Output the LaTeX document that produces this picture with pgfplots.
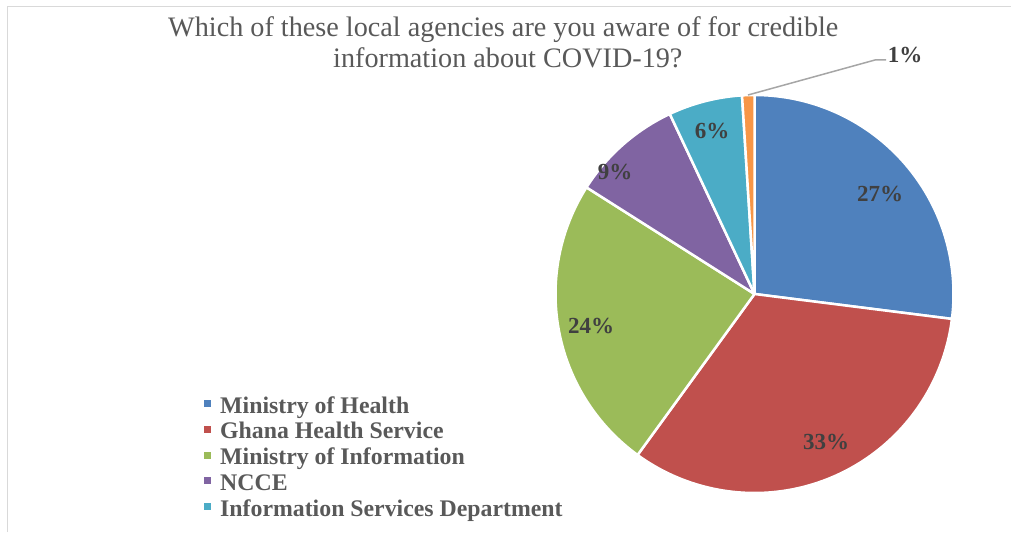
\documentclass[border=0pt]{standalone}
\usepackage{fontspec}
\setmainfont{Liberation Serif}
\usepackage{pgfplots}
\usepackage{pgfplotstable}
\pgfplotsset{compat=1.18}

\definecolor{c0}{HTML}{4F81BD}
\definecolor{c1}{HTML}{C0504D}
\definecolor{c2}{HTML}{9BBB59}
\definecolor{c3}{HTML}{8064A2}
\definecolor{c4}{HTML}{4BACC6}
\definecolor{c5}{HTML}{F79646}
\definecolor{txtgray}{HTML}{595959}
\definecolor{lblgray}{HTML}{404040}
\definecolor{framegray}{HTML}{D9D9D9}
\definecolor{leadgray}{HTML}{A6A6A6}

% share of respondents (%)
\pgfplotstableread{
value
27
33
24
9
6
1
}\piedata

\def\cum{0}
\pgfplotstableforeachcolumnelement{value}\of\piedata\as\v{%
  \pgfmathsetmacro\s{90-3.6*\cum}%
  \expandafter\xdef\csname pieS\pgfplotstablerow\endcsname{\s}%
  \expandafter\xdef\csname pieV\pgfplotstablerow\endcsname{\v}%
  \pgfmathsetmacro\c{\cum+\v}\xdef\cum{\c}%
}

\begin{document}
\begin{tikzpicture}
\begin{axis}[
  scale only axis, width=1011bp, height=532bp,
  xmin=0, xmax=1011, ymin=0, ymax=532,
  hide axis, clip=false,
  legend entries={Ministry of Health, Ghana Health Service, Ministry of Information, NCCE, Information Services Department},
  legend cell align=left,
  legend image code/.code={\fill[#1, draw=none] (0bp,1bp) rectangle (7bp,8bp);},
  legend style={at={(axis cs:204,137)}, anchor=north west, draw=none, fill=none,
    inner sep=0pt, row sep=0pt,
    font=\fontsize{23.8bp}{26bp}\selectfont\bfseries\color{txtgray},
    nodes={inner sep=0pt, text height=18bp, text depth=7.75bp},
    /tikz/every odd column/.style={column sep=9bp}},
]
% frame
\draw[framegray, line width=1.5bp] (axis cs:7.5,0) -- (axis cs:7.5,525.5) -- (axis cs:1011,525.5);

\pgfplotsinvokeforeach{0,...,5}{
  \addplot[fill=c#1, draw=white, line width=2.5bp, line join=round, domain=0:1, samples=90]
    ({754.5+199*cos(\csname pieS#1\endcsname-3.6*\csname pieV#1\endcsname*x)},
     {238+199*sin(\csname pieS#1\endcsname-3.6*\csname pieV#1\endcsname*x)})
    -- (axis cs:754.5,238) -- cycle;
}

% title
\node[anchor=base west, text=txtgray, font=\fontsize{28.2bp}{34bp}\selectfont, inner sep=0pt] at (axis cs:168,495) {Which of these local agencies are you aware of for credible};
\node[anchor=base west, text=txtgray, font=\fontsize{28.2bp}{34bp}\selectfont, inner sep=0pt] at (axis cs:333,464) {information about COVID-19?};

% data labels
\begin{scope}[every node/.style={anchor=base, inner sep=0pt, text=lblgray, font=\fontsize{23bp}{26bp}\selectfont\bfseries}]
\node at (axis cs:880,330) {27\%};
\node at (axis cs:826,83) {33\%};
\node at (axis cs:591,199) {24\%};
\node at (axis cs:615,352) {9\%};
\node at (axis cs:712,393) {6\%};
\node at (axis cs:905,469) {1\%};
\end{scope}
\draw[leadgray, line width=1.5bp] (axis cs:748,437) -- (axis cs:875,472) -- (axis cs:886,472);
\end{axis}
\pgfresetboundingbox
\path (current axis.south west) rectangle (current axis.north east);
\end{tikzpicture}
\end{document}
